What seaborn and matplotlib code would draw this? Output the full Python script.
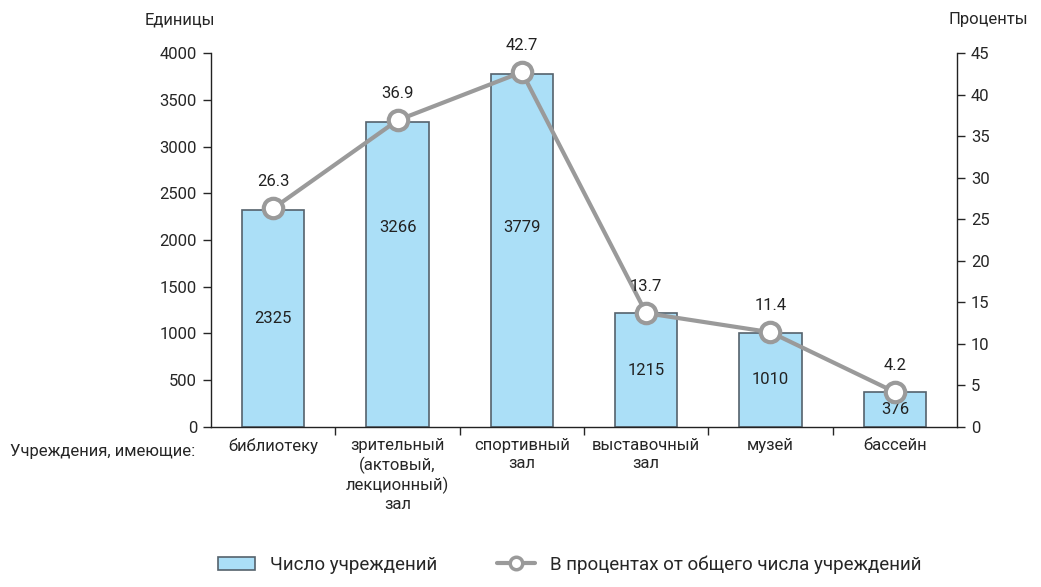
import matplotlib
matplotlib.use("Agg")
import matplotlib.pyplot as plt
import numpy as np
import pandas as pd
import seaborn as sns
from matplotlib.lines import Line2D
from matplotlib.patches import Patch

categories = ["библиотеку",
              "зрительный\n(актовый,\nлекционный)\nзал",
              "спортивный\nзал",
              "выставочный\nзал",
              "музей",
              "бассейн"]
counts = [2325, 3266, 3779, 1215, 1010, 376]
percents = [26.3, 36.9, 42.7, 13.7, 11.4, 4.2]

bar_color = "#abdff7"
edge_color = "#55626c"
line_color = "#9a9a9a"

sns.set_style("white")
plt.rcParams["font.family"] = ["Roboto", "DejaVu Sans"]

df = pd.DataFrame({"cat": categories, "count": counts, "pct": percents})

fig = plt.figure(figsize=(10.41, 5.87), dpi=100)
ax = fig.add_axes([0.2027, 0.2726, 0.7166, 0.6371])

sns.barplot(data=df, x="cat", y="count", color=bar_color, width=0.5,
            edgecolor=edge_color, linewidth=1.2, saturation=1, ax=ax)
ax.set_xlim(-0.5, 5.5)
ax.set_ylim(0, 4000)
ax.set_yticks(range(0, 4001, 500))
ax.set_xlabel("")
ax.set_ylabel("")

# value labels sit mid-bar, tall bars get them lower down
for i, v in enumerate(counts):
    ypos = 2130 if v > 3000 else v / 2
    ax.text(i, ypos, str(v), ha="center", va="center",
            fontsize=12, color="#222222")

ax2 = ax.twinx()
sns.lineplot(x=np.arange(len(percents)), y=percents, ax=ax2,
             color=line_color, linewidth=3, marker="o", markersize=14,
             markerfacecolor="white", markeredgecolor=line_color,
             markeredgewidth=3)
ax2.set_ylim(0, 45)
ax2.set_yticks(range(0, 46, 5))
for i, p in enumerate(percents):
    ax2.text(i, p + 2.3, f"{p}", ha="center", va="bottom",
             fontsize=12, color="#222222")

for a in (ax, ax2):
    for s in a.spines.values():
        s.set_color("#222222")
        s.set_linewidth(1)
    a.spines["top"].set_visible(False)
ax.spines["right"].set_visible(False)
ax2.spines["left"].set_visible(False)
ax2.spines["bottom"].set_visible(False)

ax.tick_params(axis="y", direction="out", length=6, width=1,
               labelsize=12, left=True, pad=4)
ax2.tick_params(axis="y", direction="out", length=6, width=1,
                labelsize=12, right=True, pad=4)
ax.set_xticks(np.arange(len(categories)))
ax.set_xticklabels(categories, fontsize=12, linespacing=1.25)
ax.set_xticks(np.arange(0.5, 5.0, 1.0), minor=True)
ax.tick_params(axis="x", which="major", length=0, pad=8)
ax.tick_params(axis="x", which="minor", direction="out", length=6,
               width=1, bottom=True)

fig.text(0.1729, 0.966, "Единицы", ha="center", va="center", fontsize=12)
fig.text(0.949, 0.966, "Проценты", ha="center", va="center", fontsize=12)
fig.text(0.0096, 0.23, "Учреждения, имеющие:", ha="left", va="center",
         fontsize=12)

handles = [Patch(facecolor=bar_color, edgecolor=edge_color, linewidth=1.2),
           Line2D([0], [0], color=line_color, linewidth=3, marker="o",
                  markersize=9, markerfacecolor="white",
                  markeredgecolor=line_color, markeredgewidth=2.5)]
fig.legend(handles, ["Число учреждений",
                     "В процентах от общего числа учреждений"],
           loc="center", bbox_to_anchor=(0.547, 0.038), ncol=2,
           frameon=False, fontsize=13.5, handlelength=2.0,
           columnspacing=3.2, handletextpad=0.8)

fig.savefig("out.png", dpi=100)
